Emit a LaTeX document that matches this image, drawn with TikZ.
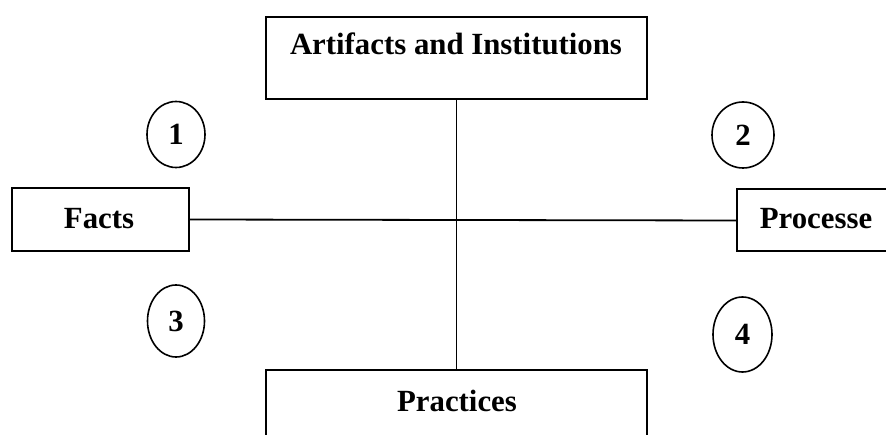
\documentclass[tikz,border=0pt]{standalone}
\usepackage{fontspec}
\setmainfont{Liberation Serif}
\usetikzlibrary{shapes.geometric}
\tikzset{
  boxnode/.style={draw, line width=2pt, rectangle, inner sep=0pt},
  lbl/.style={font=\fontsize{30.8}{36}\selectfont\bfseries, inner sep=0pt, anchor=base},
  numnode/.style={draw, line width=1.6pt, ellipse, inner sep=0pt, font=\fontsize{30.8}{36}\selectfont\bfseries},
  conn/.style={line width=1.8pt}
}
\begin{document}
\begin{tikzpicture}[x=1pt,y=-1pt]
\useasboundingbox (0,0) rectangle (886,435);
\clip (0,0) rectangle (886,435);
% boxes
\node[boxnode, minimum width=381pt, minimum height=82pt] (art) at (456.5,58) {};
\node[boxnode, minimum width=177pt, minimum height=63pt] (facts) at (100.5,219.5) {};
\node[boxnode, minimum width=177pt, minimum height=62pt] (proc) at (825.5,220.5) {};
\node[boxnode, minimum width=381pt, minimum height=82pt] (prac) at (456.5,411) {};
% labels
\node[lbl] (artl) at (456,55) {Artifacts and Institutions};
\node[lbl] (factsl) at (99,229) {Facts};
\node[lbl] (procl) at (816,229) {Processe};
\node[lbl] (pracl) at (457,411) {Practices};
% connectors
\draw[conn] (art.south) -- (prac.north);
\draw[conn] (facts.east) -- (proc.west);
% numbered ellipses
\node[numnode, minimum width=58pt, minimum height=66pt] (n1) at (176,134.5) {1};
\node[numnode, minimum width=62pt, minimum height=66pt] (n2) at (743,135) {2};
\node[numnode, minimum width=57pt, minimum height=72pt] (n3) at (176,321) {3};
\node[numnode, minimum width=59pt, minimum height=75pt] (n4) at (742.5,334.5) {4};
\end{tikzpicture}
\end{document}
